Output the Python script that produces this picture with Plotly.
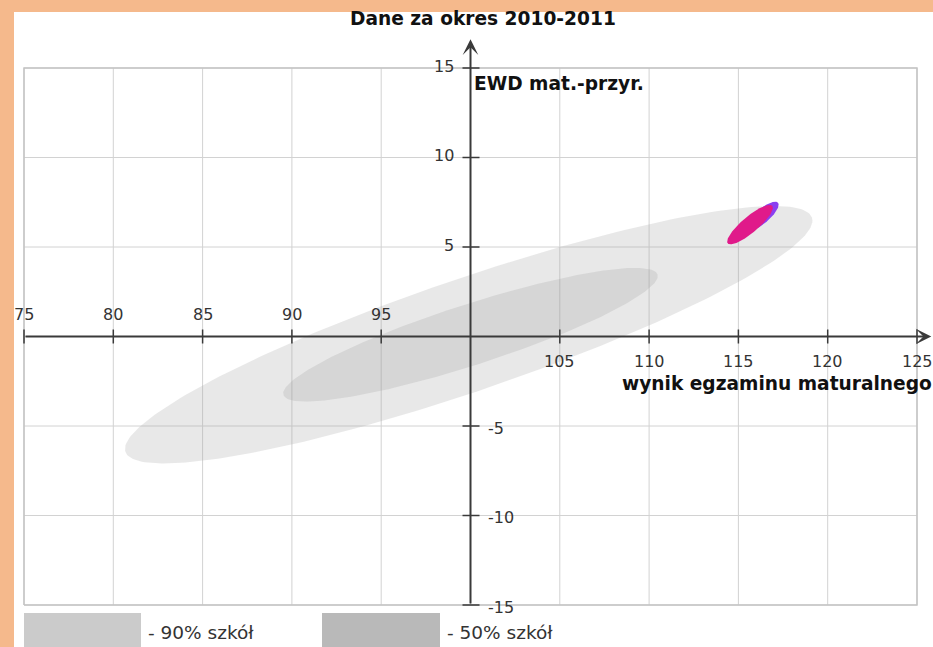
import numpy as np
import plotly.graph_objects as go

# ---------------- data ----------------
title_text = "Dane za okres 2010-2011"
x_title = "wynik egzaminu maturalnego"
y_title = "EWD mat.-przyr."

x_ticks = [75, 80, 85, 90, 95, 100, 105, 110, 115, 120, 125]
y_ticks = [-15, -10, -5, 0, 5, 10, 15]

# ellipses: 90% of schools, 50% of schools, school ellipses
ell_names = ["90% szkół", "50% szkół", "szkoła A", "szkoła B"]
ell_cx = [99.9, 100.0, 116.3, 115.65]
ell_cy = [0.1, 0.1, 6.7, 6.25]
ell_a = [20.3, 11.0, 1.2, 1.63]
ell_b = [3.15, 1.7, 0.40, 0.45]
ell_angle = [18.8, 17.8, 40.0, 40.0]

legend_labels = ["- 90% szkół", "- 50% szkół"]

# ---------------- styles ----------------
ell_fill = ["rgba(165,165,165,0.25)", "rgba(150,150,150,0.22)", "#8a3ff0", "#e01a8a"]
ORANGE = "#f5b98c"
GRID = "#d2d2d2"
AXIS = "#3a3a3a"
FONT = "DejaVu Sans"

X0, X1 = 74.552, 125.84
Y0, Y1 = -15.391, 16.788


def ellipse(cx, cy, a, b, ang):
    t = np.linspace(0, 2 * np.pi, 241)
    th = np.radians(ang)
    x = cx + a * np.cos(t) * np.cos(th) - b * np.sin(t) * np.sin(th)
    y = cy + a * np.cos(t) * np.sin(th) + b * np.sin(t) * np.cos(th)
    return x, y


fig = go.Figure()

# grid
gx, gy = [], []
for v in x_ticks:
    gx += [v, v, None]
    gy += [min(y_ticks), max(y_ticks), None]
for v in y_ticks:
    gx += [min(x_ticks), max(x_ticks), None]
    gy += [v, v, None]
fig.add_trace(go.Scatter(x=gx, y=gy, mode="lines", line=dict(color=GRID, width=1),
                         hoverinfo="skip", showlegend=False))
fx = [min(x_ticks), max(x_ticks), max(x_ticks), min(x_ticks), min(x_ticks)]
fy = [min(y_ticks), min(y_ticks), max(y_ticks), max(y_ticks), min(y_ticks)]
fig.add_trace(go.Scatter(x=fx, y=fy, mode="lines", line=dict(color="#c4c4c4", width=1.5),
                         hoverinfo="skip", showlegend=False))

for i, name in enumerate(ell_names):
    ex, ey = ellipse(ell_cx[i], ell_cy[i], ell_a[i], ell_b[i], ell_angle[i])
    fig.add_trace(go.Scatter(x=ex, y=ey, mode="lines", fill="toself",
                             fillcolor=ell_fill[i], line=dict(width=0, color=ell_fill[i]),
                             name=name, hoverinfo="name", showlegend=False))

shapes = []
px0, px1 = 16, 932
py_top, py_bot = 36, 612
def pxp(p):
    return (p - px0) / (px1 - px0)
def pyp(p):
    return (py_bot - p) / (py_bot - py_top)

# white panel
shapes.append(dict(type="rect", xref="paper", yref="paper", x0=pxp(14), x1=pxp(940),
                   y0=pyp(660), y1=pyp(12), fillcolor="white", line=dict(width=0), layer="below"))

# tick marks on axes (crossing)
for v in y_ticks:
    if v == 0:
        continue
    shapes.append(dict(type="line", xref="x", yref="y", xsizemode="pixel", xanchor=100,
                       x0=-8, x1=9, y0=v, y1=v, line=dict(color=AXIS, width=1.5)))
for v in x_ticks:
    if v == 100:
        continue
    shapes.append(dict(type="line", xref="x", yref="y", ysizemode="pixel", yanchor=0,
                       y0=-7, y1=7, x0=v, x1=v, line=dict(color=AXIS, width=1.5)))

# legend swatches
shapes.append(dict(type="rect", xref="paper", yref="paper", x0=pxp(24), x1=pxp(141),
                   y0=pyp(650), y1=pyp(613), fillcolor="#cbcbcb", line=dict(width=0)))
shapes.append(dict(type="rect", xref="paper", yref="paper", x0=pxp(322), x1=pxp(440),
                   y0=pyp(650), y1=pyp(613), fillcolor="#b9b9b9", line=dict(width=0)))

ann = []
ann.append(dict(x=100, y=16.6, ax=100, ay=-15, xref="x", yref="y", axref="x", ayref="y",
                text="", showarrow=True, arrowhead=3, arrowsize=1.3, arrowwidth=2, arrowcolor=AXIS))
ann.append(dict(x=125.8, y=0, ax=75, ay=0, xref="x", yref="y", axref="x", ayref="y",
                text="", showarrow=True, arrowhead=3, arrowsize=1.3, arrowwidth=2, arrowcolor=AXIS))

tick_font = dict(family=FONT, size=16, color="#333333")
for v in x_ticks:
    if v == 100:
        continue
    ann.append(dict(x=v, y=0, xref="x", yref="y", text=str(v), showarrow=False,
                    xanchor="center", yanchor="middle", yshift=22 if v < 100 else -25,
                    font=tick_font))
for v in y_ticks:
    if v == 0:
        continue
    if v > 0:
        ann.append(dict(x=100, y=v, xref="x", yref="y", text=str(v), showarrow=False,
                        xanchor="right", yanchor="middle", xshift=-15, yshift=2, font=tick_font))
    else:
        ann.append(dict(x=100, y=v, xref="x", yref="y", text=str(v), showarrow=False,
                        xanchor="left", yanchor="middle", xshift=15, yshift=-2, font=tick_font))

bold = dict(family=FONT, size=18.6, color="#111111", weight="bold")
ann.append(dict(x=pxp(483), y=pyp(18), xref="paper", yref="paper", text=title_text,
                showarrow=False, xanchor="center", yanchor="middle", font=bold))
ann.append(dict(x=100, y=15, xref="x", yref="y", text=y_title, showarrow=False,
                xanchor="left", yanchor="middle", xshift=1, yshift=-15, font=bold))
ann.append(dict(x=pxp(934), y=0, xref="paper", yref="y", text=x_title, showarrow=False,
                xanchor="right", yanchor="middle", yshift=-47, font=bold))

leg_font = dict(family=FONT, size=18.5, color="#333333")
ann.append(dict(x=pxp(146), y=pyp(632), xref="paper", yref="paper", text=legend_labels[0],
                showarrow=False, xanchor="left", yanchor="middle", font=leg_font))
ann.append(dict(x=pxp(445), y=pyp(632), xref="paper", yref="paper", text=legend_labels[1],
                showarrow=False, xanchor="left", yanchor="middle", font=leg_font))

fig.update_layout(
    width=933, height=647,
    margin=dict(l=px0, r=933 - px1, t=py_top, b=647 - py_bot, pad=0),
    paper_bgcolor=ORANGE, plot_bgcolor="rgba(0,0,0,0)",
    xaxis=dict(range=[X0, X1], visible=False, fixedrange=True),
    yaxis=dict(range=[Y0, Y1], visible=False, fixedrange=True),
    shapes=shapes, annotations=ann, showlegend=False,
)

fig.write_html(
    "out.html",
    config={"displayModeBar": False},
    post_script="document.body.style.margin='0';document.body.style.overflow='hidden';"
                "document.body.style.background='" + ORANGE + "';",
)
